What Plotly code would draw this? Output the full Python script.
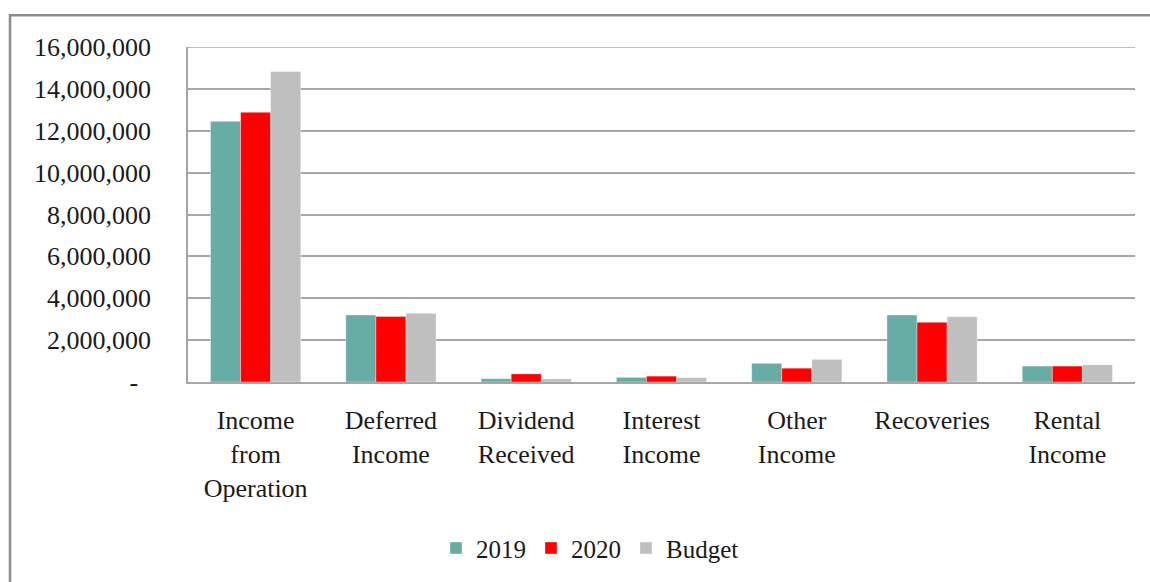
import plotly.graph_objects as go

# Income categories (multi-line labels) and values per series
categories = ["Income<br>from<br>Operation", "Deferred<br>Income", "Dividend<br>Received",
              "Interest<br>Income", "Other<br>Income", "Recoveries", "Rental<br>Income"]
values_2019 = [12450000, 3200000, 160000, 220000, 890000, 3200000, 760000]
values_2020 = [12880000, 3130000, 390000, 280000, 660000, 2850000, 760000]
values_budget = [14830000, 3280000, 150000, 210000, 1080000, 3120000, 820000]

tick_vals = [0, 2000000, 4000000, 6000000, 8000000, 10000000, 12000000, 14000000, 16000000]
tick_text = ["-\u00a0\u00a0", "2,000,000", "4,000,000", "6,000,000", "8,000,000",
             "10,000,000", "12,000,000", "14,000,000", "16,000,000"]
y_max = 16000000

series = [
    ("2019", values_2019, "#67ADA5"),
    ("2020", values_2020, "#FF0000"),
    ("Budget", values_budget, "#BFBFBF"),
]

FONT = "'Liberation Serif', 'DejaVu Serif', serif"
GRID = "#a6a6a6"

fig = go.Figure()
for name, vals, color in series:
    fig.add_trace(go.Bar(
        x=categories, y=vals, name=name,
        marker=dict(color=color, line=dict(color="rgba(255,255,255,0.6)", width=0.6)),
    ))

W, H = 1150, 582
ml, mr, mt, mb = 188, 15, 47, 198.5
pw, ph = W - ml - mr, H - mt - mb

def px_x(x):
    return (x - ml) / pw

def px_y(y):
    return (H - mb - y) / ph

fig.update_layout(
    width=W, height=H,
    margin=dict(l=ml, r=mr, t=mt, b=mb, pad=0),
    paper_bgcolor="white", plot_bgcolor="white",
    barmode="group", bargap=0.333, bargroupgap=0,
    font=dict(family=FONT, size=26, color="#1a1a1a"),
    showlegend=True,
    legend=dict(orientation="h", x=px_x(590), xanchor="center", y=px_y(549), yanchor="middle",
                font=dict(family=FONT, size=25, color="#1a1a1a"),
                itemwidth=30, traceorder="normal", bgcolor="rgba(0,0,0,0)"),
    xaxis=dict(
        showgrid=False, showline=True, linecolor=GRID, linewidth=2,
        ticks="", ticklabelstandoff=14, tickfont=dict(family=FONT, size=26, color="#1a1a1a"),
    ),
    yaxis=dict(
        range=[0, y_max], tickvals=tick_vals, ticktext=tick_text,
        showgrid=True, gridcolor=GRID, gridwidth=1.5,
        showline=True, linecolor=GRID, linewidth=1.5,
        zeroline=False, ticks="", ticklabelstandoff=30,
        tickfont=dict(family=FONT, size=26, color="#1a1a1a"),
    ),
    shapes=[
        # top gridline at the axis maximum
        dict(type="line", xref="paper", yref="y", x0=0, x1=1, y0=y_max, y1=y_max,
             line=dict(color=GRID, width=1.5), layer="below"),
        # outer chart frame
        dict(type="rect", xref="paper", yref="paper",
             x0=px_x(10), x1=px_x(1200), y0=px_y(700), y1=px_y(15),
             line=dict(color="#8c8c8c", width=2.5), fillcolor="rgba(0,0,0,0)", layer="below"),
    ],
)

fig.write_html("out.html")
